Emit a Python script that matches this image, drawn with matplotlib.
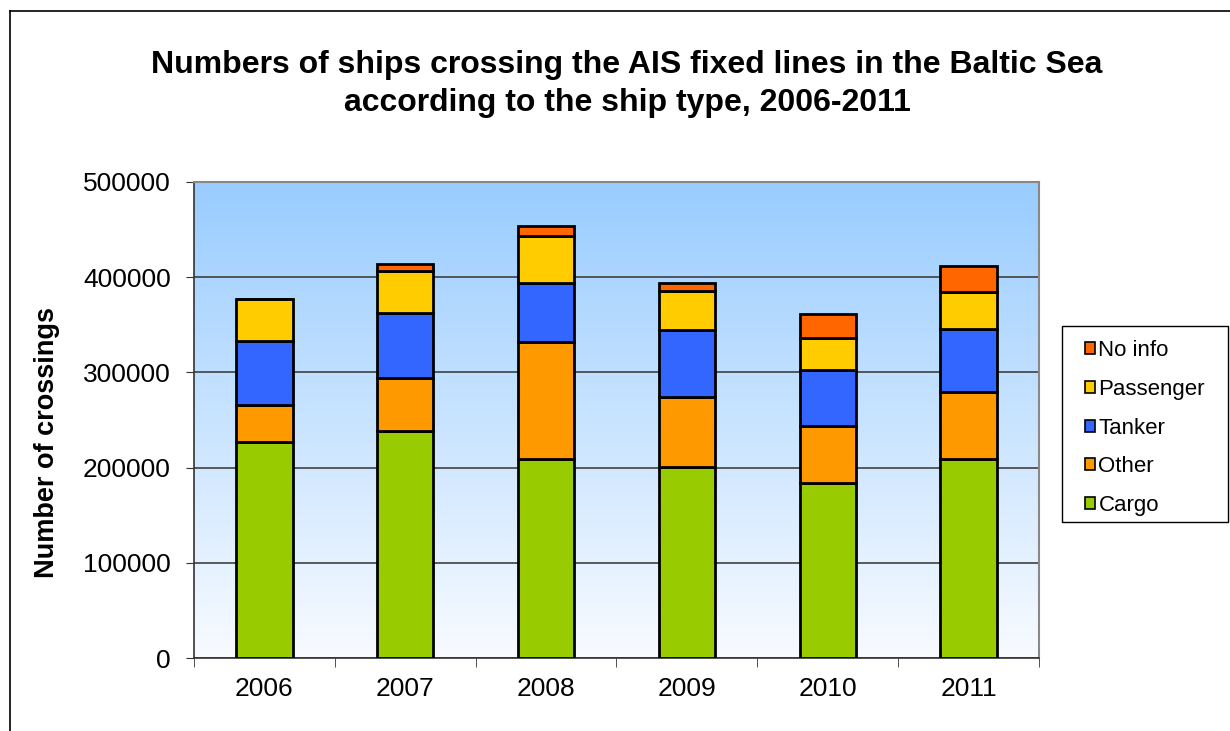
import numpy as np
import matplotlib
matplotlib.use("Agg")
import matplotlib.pyplot as plt
from matplotlib.lines import Line2D
from matplotlib.patches import Rectangle

plt.rcParams['font.family'] = ['Liberation Sans', 'DejaVu Sans']

years = ["2006", "2007", "2008", "2009", "2010", "2011"]
cargo = [227000, 238000, 209500, 200700, 184300, 209500]
other = [39200, 56300, 122400, 73500, 59100, 69900]
tanker = [67200, 68500, 61900, 70000, 58800, 65800]
passenger = [43300, 44100, 49300, 41200, 33900, 39200]
no_info = [0, 7100, 10200, 8400, 25600, 26900]

series = [("Cargo", cargo, "#99CC00"),
          ("Other", other, "#FF9900"),
          ("Tanker", tanker, "#3366FF"),
          ("Passenger", passenger, "#FFCC00"),
          ("No info", no_info, "#FF6600")]

W, H = 1230, 731
fig = plt.figure(figsize=(W / 100, H / 100), dpi=100)

# outer chart frame (cropped at right/bottom)
fig.add_artist(Line2D([10 / W, 10 / W], [0, 1 - 11 / H], color="black", lw=1.2))
fig.add_artist(Line2D([10 / W, 1], [1 - 11 / H, 1 - 11 / H], color="black", lw=1.2))

ax = fig.add_axes([194 / W, 1 - 658 / H, (1039 - 194) / W, (658 - 182) / H])

# gradient background
grad = np.linspace(0, 1, 256).reshape(-1, 1)
top = np.array([0x99, 0xCC, 0xFF]) / 255
bot = np.array([0xF8, 0xFB, 0xFF]) / 255
img = top[None, None, :] * (1 - grad[:, :, None]) + bot[None, None, :] * grad[:, :, None]
ax.imshow(img, extent=[0, 1, 0, 1], transform=ax.transAxes, aspect="auto", zorder=0)

x = np.arange(len(years))
bottom = np.zeros(len(years))
handles = []
for name, vals, col in series:
    b = ax.bar(x, vals, width=0.4, bottom=bottom, color=col, edgecolor="black",
               linewidth=2, label=name, zorder=3)
    bottom += np.array(vals)
    handles.append(b)

ax.set_xlim(-0.5, len(years) - 0.5)
ax.set_ylim(0, 500000)
ax.set_yticks(np.arange(0, 500001, 100000))
ax.set_yticklabels([str(v) for v in range(0, 500001, 100000)], fontsize=19)
ax.yaxis.grid(True, color="#404040", lw=1.2, zorder=1)
ax.set_axisbelow(True)

ax.set_xticks(x)
ax.set_xticklabels(years, fontsize=19)
ax.tick_params(axis="x", length=0, pad=14)
ax.set_xticks(np.arange(-0.5, len(years)), minor=True)
ax.tick_params(axis="x", which="minor", length=6.5, direction="out", color="#333333")
ax.tick_params(axis="y", length=5.8, direction="out", color="#333333", pad=11)

for s in ["top", "right"]:
    ax.spines[s].set_color("#888888")
    ax.spines[s].set_linewidth(1.5)
for s in ["left", "bottom"]:
    ax.spines[s].set_color("#333333")
    ax.spines[s].set_linewidth(1.2)

ax.set_ylabel("Number of crossings", fontsize=19.5, fontweight="bold")
ax.yaxis.set_label_coords((60 - 194) / (1039 - 194), (658 - 443) / (658 - 182))

fig.text(627 / W, 1 - 84 / H,
         "Numbers of ships crossing the AIS fixed lines in the Baltic Sea\naccording to the ship type, 2006-2011",
         ha="center", va="center", fontsize=23, fontweight="bold", linespacing=1.32)

leg = fig.legend(handles[::-1], [s[0] for s in series][::-1],
                 loc="center", bbox_to_anchor=(1145 / W, 1 - 428 / H),
                 fontsize=16, frameon=False,
                 handlelength=0.45, handleheight=0.45, handletextpad=0.15,
                 labelspacing=0.8, borderpad=0)
for h in leg.legend_handles:
    h.set_linewidth(1.2)
fig.add_artist(Rectangle((1062 / W, 1 - 522 / H), 166 / W, 196 / H,
                         transform=fig.transFigure, fill=False,
                         edgecolor="black", lw=1.0))

fig.savefig("out.png", dpi=100)
